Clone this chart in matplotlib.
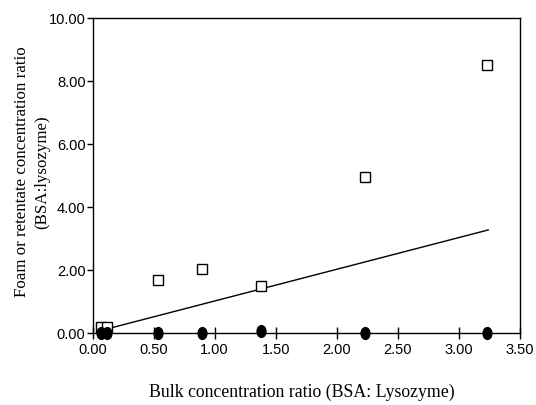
import matplotlib
matplotlib.use("Agg")
import matplotlib.pyplot as plt
from matplotlib.path import Path
from matplotlib.transforms import Affine2D

# Bulk concentration ratio (BSA:lysozyme)
bulk_ratio = [0.07, 0.12, 0.54, 0.90, 1.38, 2.23, 3.23]
# foam concentration ratio (open squares)
foam_ratio = [0.17, 0.17, 1.67, 2.01, 1.48, 4.95, 8.50]
# retentate concentration ratio (filled circles)
retentate_ratio = [0.0, 0.0, 0.0, 0.0, 0.05, 0.0, 0.0]
# reference line y = x
line_x = [0.05, 3.24]
line_y = [0.05, 3.26]

ellipse = Path.unit_circle().transformed(Affine2D().scale(0.75, 1.0))

fig = plt.figure(figsize=(5.36, 4.06), dpi=100)
ax = fig.add_axes([92.5 / 536, 1 - 333.7 / 406, (520 - 92.5) / 536, (333.7 - 18.5) / 406])

ax.plot(line_x, line_y, color='black', linewidth=1.0, zorder=2)
ax.plot(bulk_ratio, retentate_ratio, linestyle='none', marker=ellipse,
        markersize=8.5, color='black', clip_on=False, zorder=4)
ax.plot(bulk_ratio, foam_ratio, linestyle='none', marker='s', markersize=7.5,
        markerfacecolor='white', markeredgecolor='black', markeredgewidth=1.0,
        clip_on=False, zorder=3)

ax.set_xlim(0, 3.5)
ax.set_ylim(0, 10)
ax.set_xticks([0, 0.5, 1.0, 1.5, 2.0, 2.5, 3.0, 3.5])
ax.set_yticks([0, 2, 4, 6, 8, 10])
ax.set_xticklabels(['%.2f' % v for v in ax.get_xticks()], fontfamily='Liberation Sans', fontsize=10.5)
ax.set_yticklabels(['%.2f' % v for v in ax.get_yticks()], fontfamily='Liberation Sans', fontsize=10.5)
ax.tick_params(axis='x', direction='inout', length=9, width=1.0, pad=2)
ax.tick_params(axis='y', direction='out', length=4, width=1.0, pad=1)
for s in ax.spines.values():
    s.set_linewidth(1.0)

fig.text(302 / 536, 1 - 392 / 406, 'Bulk concentration ratio (BSA: Lysozyme)',
         ha='center', va='center', fontfamily='Liberation Serif', fontsize=12.8)
fig.text(22 / 536, 1 - 172 / 406, 'Foam or retentate concentration ratio',
         ha='center', va='center', rotation=90, fontfamily='Liberation Serif', fontsize=12.2)
fig.text(42 / 536, 1 - 172 / 406, '(BSA:lysozyme)',
         ha='center', va='center', rotation=90, fontfamily='Liberation Serif', fontsize=12.2)

fig.savefig('out.png', dpi=100)
